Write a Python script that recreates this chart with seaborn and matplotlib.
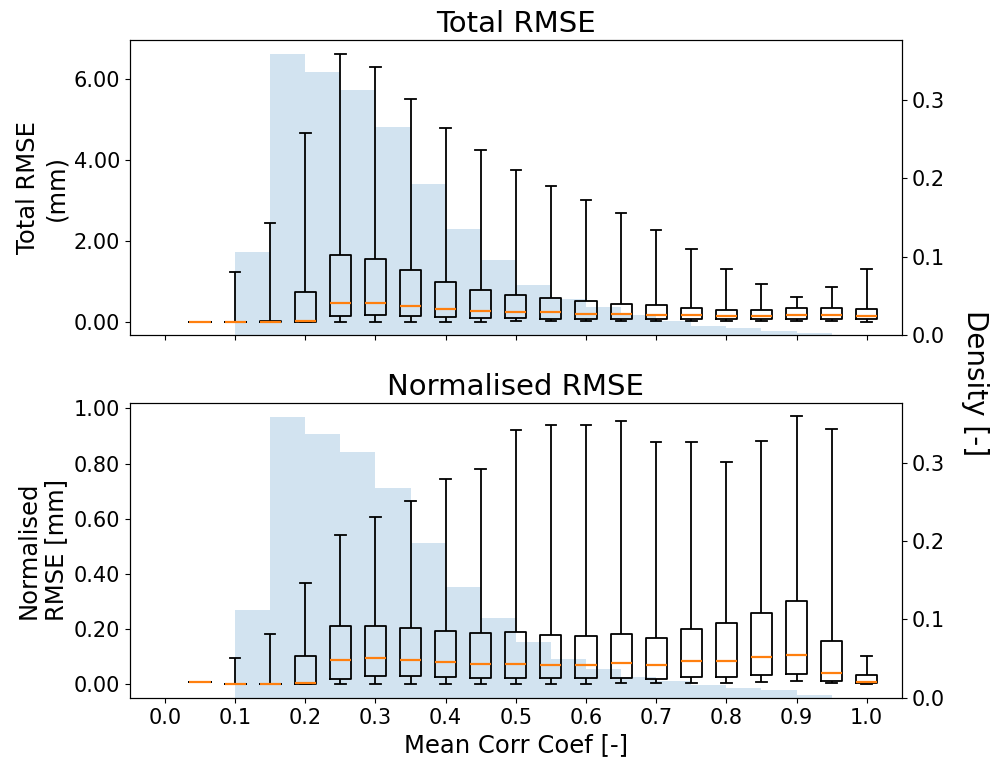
import matplotlib
matplotlib.use('Agg')
import matplotlib.pyplot as plt
import numpy as np
import pandas as pd
import seaborn as sns
from matplotlib.ticker import FormatStrFormatter

# box positions (mean corr coef bin centres)
positions = [0.05, 0.10, 0.15, 0.20, 0.25, 0.30, 0.35, 0.40, 0.45, 0.50,
             0.55, 0.60, 0.65, 0.70, 0.75, 0.80, 0.85, 0.90, 0.95, 1.00]

# total RMSE five-number summaries (mm)
tot_lo = [0.00, 0.00, 0.00, 0.00, 0.00, 0.00, 0.00, 0.00, 0.00, 0.01,
          0.01, 0.01, 0.01, 0.01, 0.01, 0.01, 0.01, 0.01, 0.01, 0.00]
tot_q1 = [0.00, 0.00, 0.00, 0.00, 0.14, 0.16, 0.14, 0.12, 0.10, 0.09,
          0.08, 0.08, 0.08, 0.08, 0.08, 0.08, 0.08, 0.08, 0.08, 0.06]
tot_med = [0.00, 0.00, 0.00, 0.03, 0.46, 0.46, 0.38, 0.32, 0.26, 0.23,
           0.23, 0.19, 0.18, 0.16, 0.16, 0.15, 0.15, 0.17, 0.16, 0.14]
tot_q3 = [0.00, 0.00, 0.02, 0.74, 1.66, 1.56, 1.27, 0.99, 0.79, 0.66,
          0.58, 0.51, 0.44, 0.41, 0.35, 0.30, 0.29, 0.33, 0.35, 0.32]
tot_hi = [0.00, 1.22, 2.45, 4.66, 6.63, 6.31, 5.51, 4.79, 4.24, 3.76,
          3.37, 3.01, 2.69, 2.28, 1.81, 1.30, 0.93, 0.62, 0.85, 1.30]

# normalised RMSE five-number summaries
nrm_lo = [0.009, 0.000, 0.000, 0.000, 0.000, 0.000, 0.000, 0.002, 0.002, 0.002,
          0.002, 0.002, 0.005, 0.004, 0.007, 0.006, 0.009, 0.011, 0.005, 0.003]
nrm_q1 = [0.009, 0.000, 0.000, 0.000, 0.018, 0.031, 0.030, 0.028, 0.023, 0.023,
          0.022, 0.022, 0.024, 0.019, 0.028, 0.028, 0.035, 0.039, 0.012, 0.004]
nrm_med = [0.009, 0.000, 0.000, 0.004, 0.089, 0.095, 0.089, 0.081, 0.075, 0.073,
           0.071, 0.069, 0.077, 0.071, 0.085, 0.084, 0.098, 0.107, 0.041, 0.009]
nrm_q3 = [0.009, 0.000, 0.000, 0.104, 0.210, 0.212, 0.204, 0.195, 0.186, 0.189,
          0.178, 0.176, 0.184, 0.168, 0.201, 0.222, 0.258, 0.302, 0.158, 0.034]
nrm_hi = [0.009, 0.095, 0.184, 0.366, 0.540, 0.605, 0.666, 0.743, 0.782, 0.920,
          0.941, 0.939, 0.953, 0.877, 0.880, 0.805, 0.883, 0.971, 0.927, 0.104]

# density of mean corr coef
bin_edges = [0.10, 0.15, 0.20, 0.25, 0.30, 0.35, 0.40, 0.45, 0.50,
             0.55, 0.60, 0.65, 0.70, 0.75, 0.80, 0.85, 0.90, 0.95]
dens_top = [0.106, 0.358, 0.335, 0.312, 0.265, 0.193, 0.135, 0.096, 0.064,
            0.046, 0.036, 0.026, 0.018, 0.012, 0.009, 0.005, 0.003]
dens_bot = [0.112, 0.358, 0.336, 0.313, 0.267, 0.197, 0.141, 0.102, 0.071,
            0.050, 0.037, 0.027, 0.022, 0.017, 0.013, 0.010, 0.004]

TICK_FS = 15
LABEL_FS = 17.5


def long_form(lo, q1, med, q3, hi):
    # five points per box reproduce quartiles exactly with whis=(0, 100)
    rows = []
    for p, a, b, c, d, e in zip(positions, lo, q1, med, q3, hi):
        for v in (a, b, c, d, e):
            rows.append({'pos': p, 'value': v})
    return pd.DataFrame(rows)


def panel(ax, box_df, dens, title, ylabel):
    ax2 = ax.twinx()
    sns.histplot(x=bin_edges[:-1], weights=dens, bins=bin_edges, stat='count',
                 color='C0', alpha=0.2, linewidth=0, ax=ax2)
    ax2.set_ylabel('')
    ax2.set_yticks([0.0, 0.1, 0.2, 0.3])
    ax2.yaxis.set_major_formatter(FormatStrFormatter('%.1f'))
    ax2.tick_params(labelsize=TICK_FS)

    sns.boxplot(data=box_df, x='pos', y='value', native_scale=True, whis=(0, 100),
                width=0.6, fill=False, color='black', linewidth=1.3,
                medianprops={'color': '#ff7f0e', 'linewidth': 1.6},
                showfliers=False, ax=ax)
    ax.set_zorder(ax2.get_zorder() + 1)
    ax.patch.set_visible(False)
    ax.set_title(title, fontsize=21)
    ax.set_ylabel(ylabel, fontsize=LABEL_FS)
    ax.set_xlabel('')
    ax.yaxis.set_major_formatter(FormatStrFormatter('%.2f'))
    ax.tick_params(labelsize=TICK_FS)
    return ax2


fig, axes = plt.subplots(2, 1, sharex=True, figsize=(9.91, 7.61), dpi=100)
fig.subplots_adjust(left=0.131, right=0.910, top=0.947, bottom=0.083, hspace=0.23)

panel(axes[0], long_form(tot_lo, tot_q1, tot_med, tot_q3, tot_hi), dens_top,
      'Total RMSE', 'Total RMSE\n(mm)')
panel(axes[1], long_form(nrm_lo, nrm_q1, nrm_med, nrm_q3, nrm_hi), dens_bot,
      'Normalised RMSE', 'Normalised\nRMSE [mm]')

axes[0].set_yticks([0, 2, 4, 6])
axes[1].set_yticks([0.0, 0.2, 0.4, 0.6, 0.8, 1.0])
axes[1].set_xticks([0.0, 0.1, 0.2, 0.3, 0.4, 0.5, 0.6, 0.7, 0.8, 0.9, 1.0])
axes[1].xaxis.set_major_formatter(FormatStrFormatter('%.1f'))
axes[1].set_xlim(-0.05, 1.05)
axes[1].set_xlabel('Mean Corr Coef [-]', fontsize=LABEL_FS)

fig.text(0.984, 0.497, 'Density [-]', rotation=270, va='center', ha='center', fontsize=20)

fig.savefig('out.png', dpi=100)
